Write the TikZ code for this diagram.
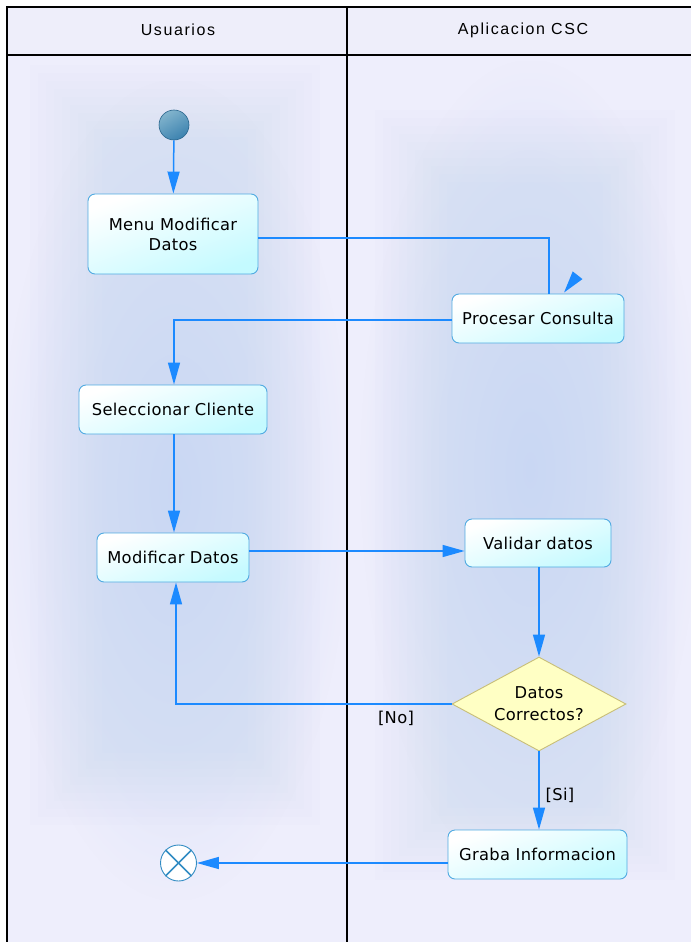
\documentclass[tikz,border=0pt]{standalone}
\usepackage{fontspec}
\setmainfont[LetterSpace=2]{DejaVu Sans}
\newfontfamily\hdrfont[LetterSpace=10]{Liberation Sans}
\usetikzlibrary{arrows.meta,shapes.geometric,calc,fadings}
\definecolor{lanebg}{RGB}{238,238,252}
\definecolor{glowc}{RGB}{196,212,243}
\definecolor{hdrbg}{RGB}{238,238,250}
\definecolor{edgec}{RGB}{28,138,255}
\definecolor{actb}{RGB}{80,170,225}
\definecolor{actf}{RGB}{196,250,255}
\definecolor{decf}{RGB}{255,255,196}
\definecolor{decb}{RGB}{200,190,120}
\definecolor{initf}{RGB}{60,130,175}
\definecolor{finc}{RGB}{50,140,195}
\tikzfading[name=glowfade, inner color=transparent!0, outer color=transparent!100]
\tikzset{
  lanel/.style={line width=1.6pt, black},
  act/.style={rectangle, rounded corners=7pt, draw=actb, line width=0.9pt,
    top color=white, bottom color=actf, shading angle=20, align=center,
    inner sep=0pt, font=\fontsize{16.3}{20}\selectfont},
  dec/.style={diamond, aspect=1.85, draw=decb, line width=0.9pt, fill=decf,
    align=center, inner sep=0pt, font=\fontsize{16.3}{22}\selectfont},
  flow/.style={draw=edgec, line width=1.5pt, -{Triangle[length=22pt,width=12pt]}},
  flowplain/.style={draw=edgec, line width=1.5pt},
  lbl/.style={font=\fontsize{16.3}{20}\selectfont, inner sep=0pt},
  hdr/.style={font=\hdrfont\fontsize{16}{20}\selectfont, inner sep=0pt},
}
\begin{document}
\begin{tikzpicture}[x=1pt,y=-1pt]
\useasboundingbox (0,0) rectangle (691,942);
\fill[white] (0,0) rectangle (691,942);
% lanes background
\fill[lanebg] (7,7) rectangle (691,942);
\foreach \i in {0,...,9} {
  \fill[glowc, opacity=0.045] ({30+8*\i},{65+8*\i}) rectangle ({320-8*\i},{825-8*\i});
  \fill[glowc, opacity=0.045] ({375+8*\i},{110+8*\i}) rectangle ({675-8*\i},{880-8*\i});
}
\fill[glowc, path fading=glowfade, fill opacity=0.75] (0,80) rectangle (350,900);
\fill[glowc, path fading=glowfade, fill opacity=0.75] (360,60) rectangle (700,880);
\fill[hdrbg] (7,7) rectangle (691,55);
\draw[lanel] (7,942) -- (7,7) -- (691,7);
\draw[lanel] (7,55) -- (691,55);
\draw[lanel] (347,7) -- (347,942);
\node[hdr] (h1) at (178,30) {Usuarios};
\node[hdr] (h2) at (523,30) {Aplicacion CSC};

% nodes
\node[circle, minimum size=30pt, inner sep=0pt, draw={rgb,255:red,40;green,100;blue,140}, line width=0.6pt,
  top color={rgb,255:red,130;green,180;blue,205}, bottom color=initf, shading angle=30] (init) at (174,125) {};
\node[act, minimum width=170pt, minimum height=80pt] (menu) at (173,234) {Menu Modificar\\Datos};
\node[act, minimum width=172pt, minimum height=49pt] (proc) at (538,318.5) {Procesar Consulta};
\node[act, minimum width=188pt, minimum height=49pt] (sel) at (173,409.5) {Seleccionar Cliente};
\node[act, minimum width=152pt, minimum height=49pt] (mod) at (173,557.5) {Modificar Datos};
\node[act, minimum width=146pt, minimum height=48pt] (val) at (538,543) {Validar datos};
\node[dec, minimum width=174pt, minimum height=94pt] (dia) at (539,704) {Datos\\Correctos?};
\node[act, minimum width=179pt, minimum height=49pt] (graba) at (537.5,854.5) {Graba Informacion};
\node[circle, minimum size=36pt, inner sep=0pt, draw=finc, line width=0.9pt, fill=white] (fin) at (178.5,863) {};
\draw[finc, line width=1.5pt] (fin.north east) -- (fin.south west);
\draw[finc, line width=1.5pt] (fin.north west) -- (fin.south east);

% connectors
\draw[flow] (init) -- (menu);
\draw[flowplain] ([yshift=-4pt]menu.east) -| ([xshift=11pt]proc.north);
\coordinate (stray) at (577.4,275.5);
\draw[flow] (stray) -- ([xshift=26pt,yshift=1pt]proc.north);
\draw[flow] ([yshift=-1.5pt]proc.west) -| ([xshift=1pt]sel.north);
\draw[flow] ([xshift=1pt]sel.south) -- ([xshift=1pt]mod.north);
\draw[flow] ([yshift=6.5pt]mod.east) -- ([yshift=6.5pt]mod.east -| val.west);
\draw[flow] (val.south -| dia.north) -- (dia.north);
\draw[flow] (dia.west) -| ([xshift=3pt]mod.south);
\draw[flow] (dia.south) -- (dia.south |- graba.north);
\draw[flow] ([yshift=-8.5pt]graba.west) -- (fin.east);

% labels
\node[lbl] (no) at (396,718) {[No]};
\node[lbl] (si) at (560,795) {[Si]};
\end{tikzpicture}
\end{document}
